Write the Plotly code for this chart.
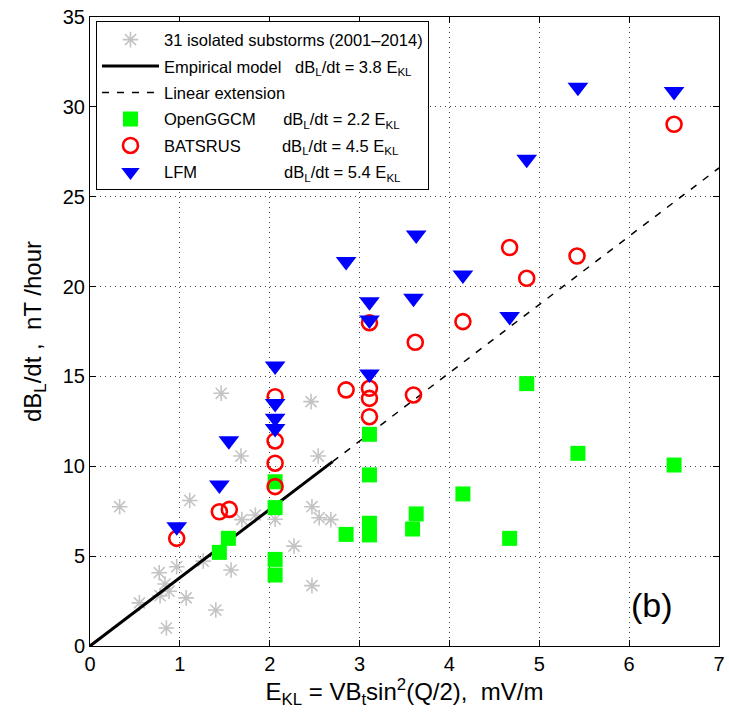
import plotly.graph_objects as go
import numpy as np

# Observed isolated substorms: E_KL (mV/m) vs dB_L/dt (nT/hour)
obs_e = [0.33, 1.11, 1.46, 1.68, 2.46, 2.54, 1.69, 1.84, 2.06, 2.47, 2.55, 2.68, 2.27,
         1.26, 1.57, 0.965, 0.77, 0.835, 0.88, 0.78, 1.07, 0.55, 1.40, 0.85, 2.47]
obs_db = [7.75, 8.1, 14.06, 10.57, 13.6, 10.57, 7.03, 7.29, 7.05, 7.75, 7.14, 7.03, 5.56,
          4.72, 4.23, 4.41, 4.08, 3.45, 3.05, 2.8, 2.68, 2.4, 2.0, 1.0, 3.36]

# Empirical model slope and extent of the fitted range
model_slope = 3.8
model_fit_max = 2.7
model_ext_max = 7.0

# OpenGGCM runs
ggcm_e = [1.44, 1.54, 2.06, 2.06, 2.06, 2.06, 2.85, 3.11, 3.11, 3.11, 3.11, 3.63, 3.59,
          4.15, 4.67, 4.86, 5.43, 6.50]
ggcm_db = [5.21, 5.99, 7.70, 9.14, 4.82, 3.95, 6.21, 11.78, 9.52, 6.83, 6.18, 7.35, 6.51,
           8.46, 5.99, 14.6, 10.72, 10.07]

# BATSRUS runs
bats_e = [0.965, 1.44, 1.55, 2.06, 2.06, 2.06, 2.06, 2.85, 3.11, 3.11, 3.11, 3.11, 3.60,
          3.62, 4.15, 4.67, 4.86, 5.42, 6.50]
bats_db = [5.99, 7.47, 7.6, 13.87, 11.41, 10.17, 8.87, 14.25, 14.34, 13.78, 12.76, 17.99,
           13.97, 16.9, 18.05, 22.17, 20.46, 21.7, 29.03]

# LFM runs
lfm_e = [0.965, 1.44, 1.545, 2.06, 2.06, 2.06, 2.06, 2.85, 3.11, 3.11, 3.11, 3.60, 3.63,
         4.15, 4.67, 4.86, 5.43, 6.50]
lfm_db = [6.64, 8.96, 11.42, 12.1, 12.67, 13.5, 15.58, 21.39, 15.14, 18.14, 19.16, 19.35,
          22.87, 20.65, 18.33, 27.08, 31.09, 30.85]

FONT = "Liberation Sans, Arial, Helvetica, sans-serif"
NB = "&nbsp;"

x_fit = np.array([0.0, model_fit_max])
x_ext = np.array([model_fit_max, model_ext_max])

fig = go.Figure()

fig.add_trace(go.Scatter(
    x=obs_e, y=obs_db, mode="markers", legendgroup="a",
    name="31 isolated substorms (2001\u20132014)",
    marker=dict(symbol="asterisk-open", size=13, color="#c4c4c4",
                line=dict(color="#c4c4c4", width=1.6)),
))
fig.add_trace(go.Scatter(
    x=x_fit, y=model_slope * x_fit, mode="lines", legendgroup="b",
    name="Empirical model" + NB * 3 + "dB<sub>L</sub>/dt = 3.8 E<sub>KL</sub>",
    line=dict(color="black", width=3),
))
fig.add_trace(go.Scatter(
    x=x_ext, y=model_slope * x_ext, mode="lines", legendgroup="c",
    name="Linear extension",
    line=dict(color="black", width=1.5, dash="7px,8px"),
))
fig.add_trace(go.Scatter(
    x=ggcm_e, y=ggcm_db, mode="markers", legendgroup="d",
    name="OpenGGCM" + NB * 6 + "dB<sub>L</sub>/dt = 2.2 E<sub>KL</sub>",
    marker=dict(symbol="square", size=15, color="#00ff00", line=dict(width=0)),
))
fig.add_trace(go.Scatter(
    x=bats_e, y=bats_db, mode="markers", legendgroup="e",
    name="BATSRUS" + NB * 9 + "dB<sub>L</sub>/dt = 4.5 E<sub>KL</sub>",
    marker=dict(symbol="circle-open", size=15, color="#ff0000",
                line=dict(color="#ff0000", width=2.6)),
))
fig.add_trace(go.Scatter(
    x=lfm_e, y=lfm_db, mode="markers", legendgroup="f",
    name="LFM" + NB * 19 + "dB<sub>L</sub>/dt = 5.4 E<sub>KL</sub>",
    marker=dict(symbol="triangle-down", size=18, color="#0000ff", line=dict(width=0)),
))

fig.add_annotation(
    x=6.25, y=2.3, xref="x", yref="y", text="(b)", showarrow=False,
    font=dict(family=FONT, size=34, color="black"),
)

axis_common = dict(
    showline=True, linecolor="black", linewidth=1, mirror="ticks",
    ticks="inside", ticklen=6, tickwidth=1, tickcolor="black",
    showgrid=True, gridcolor="#444444", gridwidth=1, griddash="1px,4px",
    zeroline=False, automargin=False,
    tickfont=dict(family=FONT, size=20, color="black"),
)

fig.update_xaxes(
    range=[0, 7], dtick=1, tick0=0,
    title=dict(text="E<sub>KL</sub> = VB<sub>t</sub>sin<sup>2</sup>(Q/2),  mV/m",
               font=dict(family=FONT, size=24, color="black"), standoff=6),
    **axis_common,
)
fig.update_yaxes(
    range=[0, 35], dtick=5, tick0=0,
    title=dict(text="dB<sub>L</sub>/dt ,  nT /hour",
               font=dict(family=FONT, size=24, color="black"), standoff=14),
    **axis_common,
)

fig.update_layout(
    width=729, height=723,
    margin=dict(l=90, r=10, t=17, b=77),
    paper_bgcolor="white", plot_bgcolor="white",
    font=dict(family=FONT, color="black"),
    showlegend=True,
    legend=dict(
        x=0.0095, y=0.993, xanchor="left", yanchor="top",
        bgcolor="white", bordercolor="black", borderwidth=1,
        font=dict(family=FONT, size=16.5, color="black"),
        itemwidth=57, tracegroupgap=2,
    ),
)

fig.write_html("out.html")
